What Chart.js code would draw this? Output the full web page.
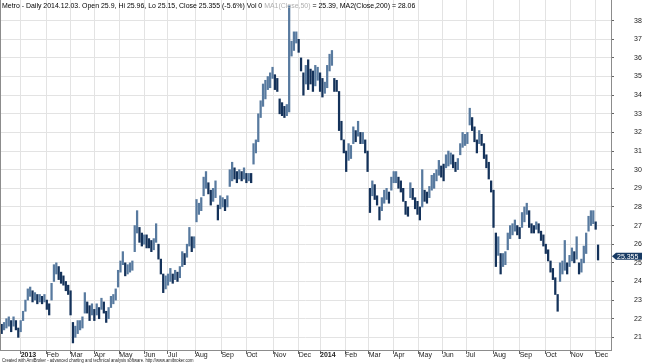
<!DOCTYPE html>
<html>
<head>
<meta charset="utf-8">
<script src="https://cdn.jsdelivr.net/npm/chart.js@4"></script>
<style>
  html, body { margin: 0; padding: 0; background: #fff; }
  #wrap { position: relative; width: 645px; height: 364px; }
  #head, #foot { position: absolute; left: 2px; white-space: nowrap; font-family: "Liberation Sans", Arial, sans-serif; transform-origin: 0 0; color: #000; }
  #head { top: 1px; font-size: 8px; }
  #foot { top: 357px; font-size: 5px; color: #222; }
  .ma1 { color: #b0b0b0; }
</style>
</head>
<body>
<div id="wrap">
  <canvas id="myChart" width="645" height="364"></canvas>
  <div id="head">Metro - Daily 2014.12.03. Open 25.9, Hi 25.96, Lo 25.15, Close 25.355 (-5.6%) Vol 0 <span class="ma1">MA1(Close,50)</span> = 25.39, MA2(Close,200) = 28.06</div>
  <div id="foot">Created with AmiBroker - advanced charting and technical analysis software. http://www.amibroker.com</div>
</div>
<script>
// one bar every 2 trading days, day 0 = 2013-01-02
const firstDay = -16;
const dayStep = 2;

const lows = [
  21.2,21.4,21.5,21.6,21.3,21.6,21.4,21.0,21.3,
  21.9,22.4,23.0,23.2,22.9,23.0,22.8,22.9,22.8,22.9,22.5,22.2,
  23.0,24.0,24.4,24.1,23.9,23.8,23.5,23.3,22.2,20.7,21.0,21.2,21.4,21.5,
  22.3,22.3,21.9,22.2,21.9,22.2,22.0,22.5,22.3,21.8,22.0,22.6,22.8,23.0,
  23.7,24.5,24.9,24.3,24.4,24.5,24.6,
  25.6,26.6,26.1,25.9,26.0,25.8,25.8,25.6,25.7,
  26.1,25.2,24.4,23.4,23.6,23.8,24.0,23.9,24.1,24.0,24.2,
  24.8,24.9,25.3,25.9,25.6,25.8,27.2,27.6,27.8,
  28.6,29.0,28.7,28.1,28.3,28.5,27.3,27.9,28.0,27.8,28.0,
  29.1,29.4,29.5,29.3,29.5,29.4,29.5,29.3,29.4,29.3,
  30.3,30.9,31.5,32.8,33.4,33.8,34.3,34.4,34.9,34.3,34.2,
  33.0,32.9,32.8,32.9,33.1,
  36.1,36.4,36.8,36.3,35.3,34.0,34.6,34.3,34.6,34.2,34.5,34.8,
  34.2,33.9,34.1,34.4,35.3,35.6,34.2,34.2,32.1,
  31.6,30.9,29.9,30.5,30.6,31.4,31.5,31.8,31.4,31.4,30.9,29.9,
  27.7,28.6,28.4,28.1,27.3,27.8,28.2,28.4,28.2,28.9,29.3,29.3,
  29.0,28.8,28.3,27.6,27.5,28.5,28.4,27.9,27.6,27.3,
  28.0,28.3,28.2,28.5,28.9,29.0,29.4,29.7,29.6,29.4,
  30.1,30.2,30.3,30.1,29.9,30.0,30.8,31.2,31.3,31.4,
  32.4,32.1,31.5,30.9,31.4,31.3,30.6,30.1,29.5,28.8,
  26.9,24.8,25.4,24.4,24.8,24.9,25.7,26.3,26.5,26.7,26.5,26.3,
  26.9,27.2,27.6,26.9,26.6,26.6,26.8,26.6,26.2,25.9,25.5,25.1,
  24.5,24.1,23.3,22.4,24.0,24.4,24.6,24.4,24.8,25.1,25.0,25.2,
  24.4,24.5,25.0,25.5,26.7,27.0,27.1,26.8,25.15
];

const highs = [
  21.7,21.8,22.0,22.1,21.9,22.1,21.9,21.5,21.9,
  22.4,23.0,23.6,23.7,23.5,23.4,23.3,23.3,23.2,23.3,23.0,22.8,
  23.9,24.9,25.0,24.8,24.5,24.3,24.0,23.8,23.5,21.8,21.6,21.9,21.9,22.1,
  23.4,22.9,22.7,22.8,22.5,22.8,22.6,23.1,22.9,22.4,22.6,23.2,23.3,23.6,
  24.6,25.1,25.6,25.0,24.9,25.0,25.1,
  27.0,27.8,26.9,26.6,26.5,26.5,26.3,26.2,26.3,
  27.1,26.0,25.2,24.4,24.3,24.4,24.7,24.4,24.6,24.5,24.8,
  25.6,25.5,26.0,26.9,26.4,26.4,28.4,28.2,28.5,
  29.6,29.9,29.3,28.9,29.0,29.4,28.1,28.6,28.5,28.4,28.6,
  30.0,30.4,30.1,29.9,30.0,29.9,30.1,29.8,29.8,29.8,
  31.4,31.6,33.0,33.7,34.6,34.8,35.0,35.2,35.5,35.1,34.9,
  33.8,33.6,33.4,33.5,38.8,
  36.9,37.4,37.4,37.0,36.0,35.2,35.6,35.9,35.4,35.3,35.6,35.5,
  35.2,34.9,34.7,35.6,36.2,36.4,34.9,34.8,34.2,
  32.6,31.6,31.0,31.4,31.3,32.3,32.1,32.6,32.0,32.0,31.6,31.0,
  29.0,29.4,29.2,28.6,28.0,28.5,28.9,29.0,28.8,29.6,29.9,29.9,
  29.6,29.4,29.0,28.3,28.0,29.3,29.0,28.5,28.3,28.0,
  30.0,28.9,28.8,29.1,29.7,29.8,30.0,30.5,30.2,30.3,
  30.8,31.0,30.9,30.8,30.4,30.6,31.4,32.0,31.9,32.0,
  33.3,32.8,32.3,31.6,32.1,31.9,31.4,30.8,30.4,29.4,
  28.9,26.6,26.4,25.5,25.5,25.6,26.6,27.0,27.1,27.3,27.0,26.9,
  27.7,28.0,28.2,27.8,27.1,27.0,27.2,27.1,26.7,26.5,26.0,25.7,
  25.1,24.7,24.2,23.3,25.0,25.1,26.2,25.0,25.4,25.8,25.6,26.4,
  25.0,25.2,25.9,26.6,27.5,27.8,27.8,27.2,25.96
];

const lastClose = 25.355;

// month starts in trading days
const monthDays = [0,22,42,62,83,104,124,147,169,190,213,234,252,273,293,314,335,355,375,398,420,442,463,484];
const monthLabels = ["2013","Feb","Mar","Apr","May","Jun","Jul","Aug","Sep","Oct","Nov","Dec",
                     "2014","Feb","Mar","Apr","May","Jun","Jul","Aug","Sep","Oct","Nov","Dec"];
const priceTicks = [21,22,23,24,25,26,27,28,29,30,31,32,33,34,35,36,37,38];

const bars = lows.map((lo, i) => ({ x: firstDay + i * dayStep, y: [lo, highs[i]] }));
const colores = lows.map((lo, i) => {
  if (i === 0) return "#14325a";
  const mid = (lo + highs[i]) / 2;
  const prev = (lows[i - 1] + highs[i - 1]) / 2;
  return mid >= prev ? "#587a9f" : "#14325a";
});

const bordes = {
  id: "bordes",
  afterDraw(chart) {
    const { ctx, chartArea: a } = chart;
    ctx.save();
    ctx.strokeStyle = "#8c8c8c";
    ctx.lineWidth = 1;
    ctx.beginPath();
    ctx.moveTo(a.left + 0.5, a.top);
    ctx.lineTo(a.left + 0.5, a.bottom);
    ctx.stroke();
    // last price marker
    const y = chart.scales.y.getPixelForValue(lastClose);
    const x = a.right + 1;
    ctx.fillStyle = "#173a63";
    ctx.beginPath();
    ctx.moveTo(x, y);
    ctx.lineTo(x + 4, y - 3.5);
    ctx.lineTo(x + 30, y - 3.5);
    ctx.lineTo(x + 30, y + 3.5);
    ctx.lineTo(x + 4, y + 3.5);
    ctx.closePath();
    ctx.fill();
    ctx.fillStyle = "#fff";
    ctx.font = "7px 'Liberation Sans', Arial, sans-serif";
    ctx.textBaseline = "middle";
    ctx.textAlign = "left";
    ctx.fillText(lastClose.toString(), x + 5, y + 0.5);
    ctx.restore();
  }
};

const myChart = document.getElementById("myChart");
new Chart(myChart, {
  type: "bar",
  data: {
    datasets: [
      {
        data: bars,
        backgroundColor: colores,
        barThickness: 1.6,
        borderWidth: 0,
      },
    ],
  },
  options: {
    responsive: false,
    animation: false,
    layout: { padding: 0, autoPadding: false },
    plugins: { legend: { display: false }, tooltip: { enabled: false } },
    scales: {
      x: {
        type: "linear",
        offset: false,
        min: -17.4,
        max: 496.9,
        afterBuildTicks: (scale) => { scale.ticks = monthDays.map((v) => ({ value: v })); },
        afterFit: (scale) => {
          scale.height = 14;
          scale.paddingLeft = 0; scale.paddingRight = 0; scale.paddingTop = 0; scale.paddingBottom = 0;
        },
        grid: { color: "#e3e3e3", tickColor: "#666", tickLength: 4, offset: false },
        border: { color: "#8c8c8c" },
        ticks: {
          autoSkip: false,
          maxRotation: 0,
          align: "start",
          padding: -3,
          color: "#222",
          callback: (v) => { const i = monthDays.indexOf(v); return i >= 0 ? monthLabels[i] : ""; },
          font: (c) => ({
            family: "'Liberation Sans', Arial, sans-serif",
            size: 7,
            weight: c.tick && /^\d{4}$/.test(monthLabels[monthDays.indexOf(c.tick.value)] || "") ? "bold" : "normal",
          }),
        },
      },
      y: {
        position: "right",
        min: 20.32,
        max: 39.11,
        afterBuildTicks: (scale) => { scale.ticks = priceTicks.map((v) => ({ value: v })); },
        afterFit: (scale) => {
          scale.width = 34;
          scale.paddingLeft = 0; scale.paddingRight = 0; scale.paddingTop = 0; scale.paddingBottom = 0;
        },
        grid: { color: "#e3e3e3", tickColor: "#666", tickLength: 3 },
        border: { color: "#8c8c8c" },
        ticks: {
          padding: 20,
          color: "#222",
          font: { family: "'Liberation Sans', Arial, sans-serif", size: 7 },
        },
      },
    },
  },
  plugins: [bordes],
});

// squeeze header/footer text to the widths seen in the picture
const fit = (el, w) => { el.style.transform = "scaleX(" + (w / el.scrollWidth) + ")"; };
fit(document.getElementById("head"), 413);
fit(document.getElementById("foot"), 191);
</script>
</body>
</html>
